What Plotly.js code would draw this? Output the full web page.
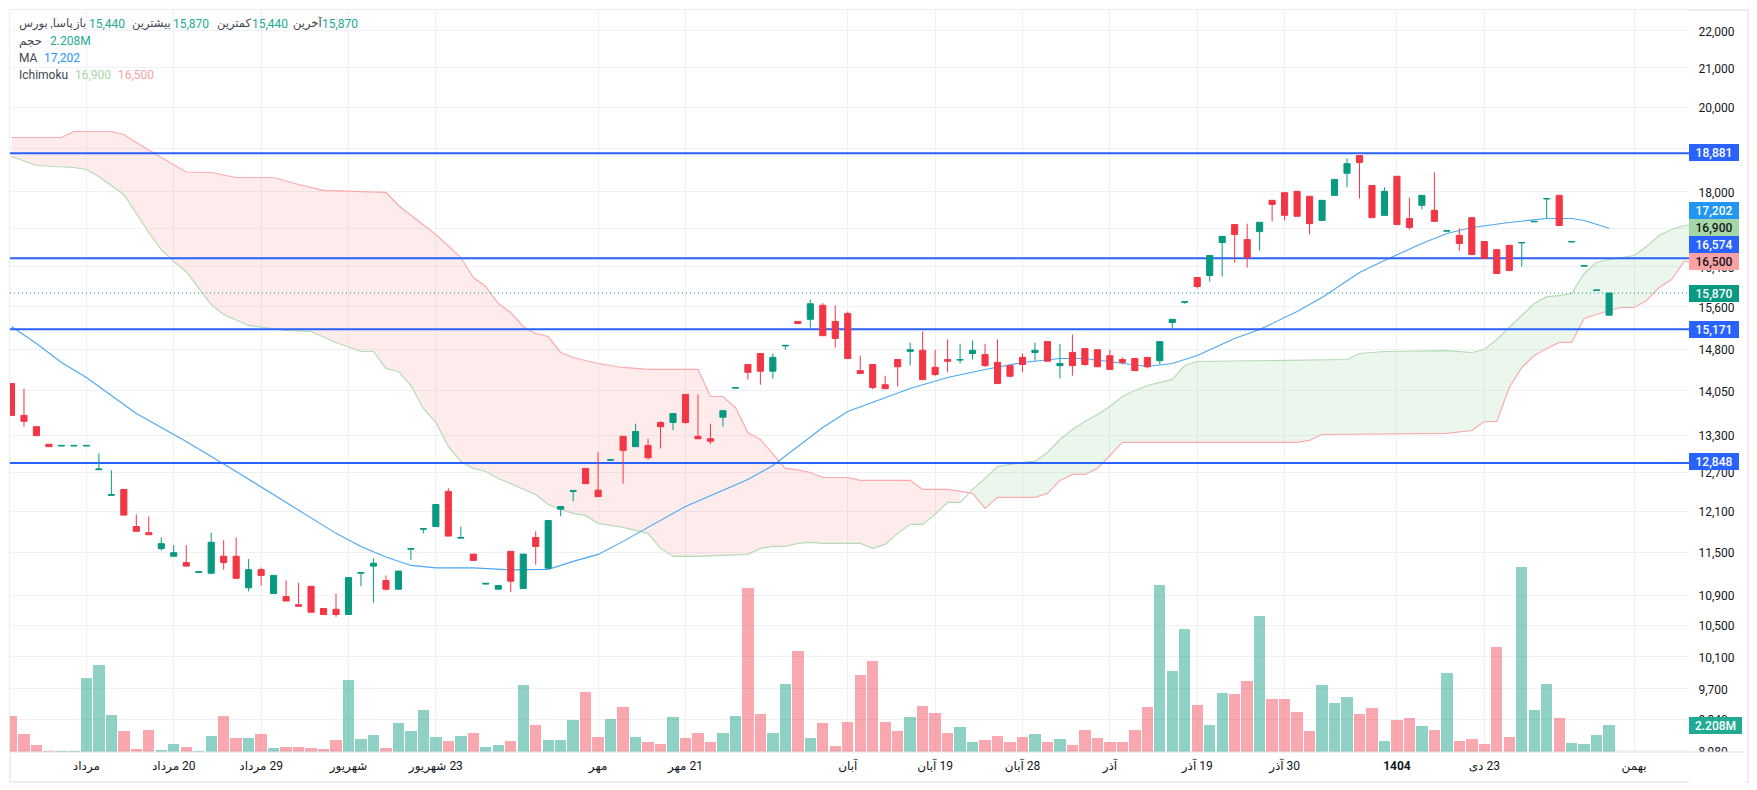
<!DOCTYPE html>
<html><head><meta charset="utf-8">
<script src="https://cdn.plot.ly/plotly-3.0.1.min.js"></script>
<style>
html,body{margin:0;padding:0;background:#fff;width:1757px;height:790px;overflow:hidden}
#frame{position:absolute;left:9px;top:9px;width:1736px;height:770px;border:2px solid #eceef4;box-sizing:content-box}
#chart{position:absolute;left:0;top:0;width:1757px;height:790px}
</style></head><body>
<div id="frame"></div><div id="chart"></div>
<script>
const open=[14180,13630,13440,13150,13120,13120,13120,12740,12340,12430,
11870,11780,11550,11440,11350,11210,11200,11440,11440,11000,
11250,10920,10880,10770,11020,10720,10710,10640,11200,11300,
11100,10980,11540,11830,11870,12400,11700,11470,11050,10980,
11510,10990,11710,11270,12130,12400,12760,12420,12890,13280,
13110,13130,13510,13510,13990,13280,13240,13600,14100,14520,
14720,14400,14860,15320,15360,15630,15320,15470,14410,14520,
14160,14610,14760,14780,14470,14610,14600,14720,14700,14560,
14500,14650,14740,14940,14500,14740,14810,14790,14680,14610,
14630,14650,14590,15300,15690,16180,16220,16900,17280,16960,
17130,17810,17980,18010,17900,17370,17920,18420,18830,18140,
17480,18350,17410,17700,17590,17140,17050,17430,16920,16750,
16840,16890,17340,17840,17920,16910,16410,15920,15440];
const close=[13630,13530,13290,13110,13130,13130,13130,12750,12350,12040,
11800,11750,11620,11490,11300,11220,11640,11350,11130,11250,
11170,11170,10820,10750,10670,10640,10640,11140,11210,11340,
10980,11230,11550,11840,12200,11730,11710,11380,11060,11030,
11090,11470,11580,11960,12170,12410,12520,12320,12900,13050,
13360,12930,13440,13660,13510,13240,13200,13710,14110,14380,
14400,14650,14870,15280,15660,15050,15000,14630,14360,14110,
14090,14480,14790,14250,14340,14580,14610,14780,14500,14180,
14310,14520,14780,14580,14540,14500,14520,14480,14430,14560,
14410,14480,14940,15360,15700,16000,16630,17030,17070,16590,
17330,17720,17480,17460,17300,17810,18280,18640,18670,17430,
18010,17280,17220,17920,17350,17150,16880,16650,16570,16260,
16320,16900,17350,17850,17260,16920,16420,15930,15870];
const high=[14180,14090,13440,13150,13130,13130,13130,13000,12730,12430,
12050,12020,11710,11600,11600,11220,11780,11670,11710,11400,
11280,11170,11100,11070,11020,10720,10920,11140,11210,11410,
11170,11230,11550,11840,12200,12450,11870,11470,11060,11030,
11510,11470,11800,11960,12170,12410,12760,13020,12900,13280,
13490,13240,13530,13660,13990,13990,13490,13710,14110,14520,
14720,14720,14870,15320,15740,15670,15630,15510,14680,14520,
14320,14610,14920,15130,14790,14980,14900,14960,14900,14980,
14500,14720,14920,14940,14900,15070,14810,14790,14790,14650,
14630,14650,14940,15360,15700,16180,16630,17030,17280,17300,
17330,17810,17980,18010,17900,17810,18280,18760,18830,18140,
18100,18350,17870,17920,18440,17150,17200,17430,16920,16750,
16840,16900,17350,17850,17920,16920,16420,15930,15870];
const low=[13630,13440,13290,13110,13120,13120,13120,12740,12340,12040,
11800,11750,11520,11440,11300,11210,11200,11250,11130,10950,
11030,10920,10820,10750,10670,10640,10610,10640,11020,10800,
10960,10980,11390,11770,11870,11730,11700,11380,11050,10980,
10940,10990,11320,11270,12020,12250,12520,12320,12890,12520,
13110,12900,13080,13380,13490,13240,13150,13440,14100,14250,
14160,14270,14790,15280,15200,15050,14830,14630,14360,14080,
14090,14130,14500,14250,14310,14380,14540,14610,14480,14180,
14290,14380,14590,14580,14270,14320,14500,14480,14430,14520,
14410,14450,14520,15190,15660,15960,16100,16200,16480,16380,
16730,17350,17370,17460,17070,17370,17920,18100,17850,17430,
17480,17280,17170,17610,17350,17140,16730,16650,16570,16260,
16320,16400,17340,17410,17260,16910,16410,15920,15440];
const volumeM=[2.94,1.48,.59,.11,.11,.11,6.01,7.06,3.02,1.72,
.27,1.80,.19,.67,.43,.11,1.32,2.94,1.16,1.16,
1.48,.35,.43,.43,.35,.27,1.00,5.84,1.08,1.40,
.35,2.37,1.72,3.42,1.24,.92,1.32,1.56,.43,.59,
.92,5.44,2.21,1.00,1.00,2.61,4.87,1.24,2.69,3.66,
1.24,.83,.67,2.85,1.16,1.56,.83,1.56,2.94,13.28,
3.10,1.56,5.52,8.19,1.16,2.37,.51,2.45,6.25,7.38,
2.45,1.72,2.85,3.74,3.18,1.56,2.05,.83,1.00,1.32,
.83,1.24,1.48,.83,1.08,.59,1.80,1.16,.83,.83,
1.80,3.66,13.52,6.57,9.96,3.82,2.21,4.79,4.71,5.76,
11.01,4.31,4.31,3.26,1.72,5.44,3.99,4.47,3.10,3.58,
.92,2.61,2.77,2.13,1.80,6.41,.92,1.08,.67,8.51,
1.24,14.95,3.42,5.52,2.77,.75,.67,1.40,2.208];
const maIdx=[0,2,4,6,10,14,18,22,26,28,30,32,34,37,40,43,45,47,49,54,59,61,63,65,67,70,72,75,78,81,84,86,89,91,93,95,98,100,103,105,108,110,113,115,117,120,123,125,126,128];
const maVal=[15224,14905,14557,14288,13663,13195,12712,12231,11770,11580,11430,11310,11275,11275,11247,11254,11367,11466,11653,12171,12586,12807,13114,13426,13697,13938,14094,14288,14431,14557,14630,14630,14539,14484,14539,14684,14998,15167,15510,15782,16282,16526,16879,17090,17218,17326,17412,17412,17369,17202];
const ichiBIdx=[0,4,5,8,9,10,12,14,16,18,21,23,25,27,30,31,33,34,36,37,38,39,40,41,42,43,44,45,47,49,51,55,56,57,58,59,60,62,63,64,65,67,68,72,73,75,76,77,78,79,82,83,84,85,86,87,89,103,104,105,115,117,118,119,120,121,122,123,124,125,126,127,128,129,130,131,132,133,134,135];
const ichiB=[19258,19258,19402,19402,19330,19138,18785,18449,18437,18323,18323,18164,18030,18007,17985,17696,17282,17069,16587,16180,16000,15665,15490,15224,15092,15035,14739,14648,14539,14467,14431,14431,13954,13954,13765,13343,13228,12760,12736,12696,12617,12617,12571,12571,12431,12431,12400,12370,12141,12308,12308,12370,12571,12665,12665,12760,13179,13179,13212,13310,13327,13376,13527,13527,14111,14467,14684,14812,14924,14924,15375,15452,15529,15587,15587,15724,15980,16140,16500,16500];
const ichiAIdx=[0,2,5,6,7,9,11,12,13,14,16,17,19,22,24,26,28,29,30,31,32,33,34,35,36,37,38,39,42,43,44,45,46,47,49,51,52,53,55,59,60,61,62,63,64,65,68,69,70,71,72,73,74,75,76,77,78,79,81,82,83,84,85,86,87,88,89,90,91,92,93,94,95,107,108,110,115,117,118,119,120,121,122,123,124,125,126,127,128,129,130,131,132,133,134,135];
const ichiA=[18808,18598,18552,18506,18345,17940,17111,16753,16505,16302,15645,15452,15243,15148,15129,14924,14757,14757,14449,14396,14146,13748,13511,13114,12871,12760,12712,12602,12354,12201,12126,12066,12036,11917,11857,11770,11552,11437,11437,11466,11552,11581,11581,11624,11638,11624,11624,11552,11609,11770,11902,11902,12051,12231,12231,12431,12602,12791,12855,12871,13016,13228,13393,13527,13646,13782,13954,14059,14146,14200,14253,14502,14575,14611,14721,14757,14775,14739,14794,14979,15205,15452,15665,15800,15820,15860,16262,16485,16546,16587,16629,16815,17048,17175,17261,17282];
const levelValues=[18881,16574,15171,12848];
const lastClose=15870;
const priceTicks=[22000,21000,20000,19000,18000,17200,16400,15600,14800,14050,13300,12700,12100,11500,10900,10500,10100,9700,9340,8980];
const timeTickIdx=[6,13,20,27,34,47,54,67,74,81,88,95,102,111,118,130];
const LRM='\u200E';
const timeTickText=['مرداد','مرداد'+LRM+' 20','مرداد'+LRM+' 29','شهریور','شهریور'+LRM+' 23','مهر','مهر'+LRM+' 21','آبان','آبان'+LRM+' 19','آبان'+LRM+' 28','آذر','آذر'+LRM+' 19','آذر'+LRM+' 30','<b>1404</b>','دی'+LRM+' 23','بهمن'];
const badges=[
 {t:'18,881',y:153,bg:'#2962ff',c:'#fff'},
 {t:'17,202',y:210.5,bg:'#2196f3',c:'#fff'},
 {t:'16,900',y:227.5,bg:'#a5d6a7',c:'#131722'},
 {t:'16,574',y:244.5,bg:'#2962ff',c:'#fff'},
 {t:'16,500',y:261.5,bg:'#faa1a4',c:'#131722'},
 {t:'15,870',y:293.5,bg:'#089981',c:'#fff'},
 {t:'15,171',y:329.5,bg:'#2962ff',c:'#fff'},
 {t:'12,848',y:462,bg:'#2962ff',c:'#fff'},
 {t:'2.208M',y:725.4,bg:'#22ab94',c:'#fff',w:53}];
const teal='#089981',red='#f23645',tealText='#22ab94',ink='#434651';
const legendItems=[
 {t:'پاسا, بورس',x:18,y:24,c:ink,s:11.5},{t:'باز',x:72,y:24,c:ink,s:11.5},{t:'15,440',x:88,y:24,c:tealText},
 {t:'بیشترین',x:131,y:24,c:ink,s:11.5},{t:'15,870',x:171.5,y:24,c:tealText},
 {t:'کمترین',x:216,y:24,c:ink,s:11.5},{t:'15,440',x:250.5,y:24,c:tealText},
 {t:'آخرین',x:292,y:24,c:ink,s:11.5},{t:'15,870',x:321,y:24,c:tealText},
 {t:'حجم',x:18,y:41,c:ink},{t:'2.208M',x:48.5,y:41,c:tealText},
 {t:'MA',x:18,y:58,c:ink},{t:'17,202',x:42.5,y:58,c:'#2196f3'},
 {t:'Ichimoku',x:18,y:75,c:ink},{t:'16,900',x:73.5,y:75,c:'#a5d6a7'},{t:'16,500',x:117,y:75,c:'#faa1a4'}];

const FONT='Roboto, "Noto Sans", "DejaVu Sans", sans-serif';
const L=10,R=1689,T=10,B=752,W=R-L,H=B-T;
const px=x=>(x-L)/W, py=y=>(B-y)/H;
const idx=open.map((_,i)=>i);
const yRange=[3.95267,4.35347];
const xRange=[-0.12,134.4];
const sel=(ix,v,f)=>{const a=[],b=[];ix.forEach((k,n)=>{if(f(k)){a.push(k);b.push(v[n]);}});return {x:a,y:b};};
const before=k=>k<=76, after=k=>k>=77;
const noLine={width:0,color:'rgba(0,0,0,0)'};
const pinkFill='rgba(242,54,69,0.10)',greenFill='rgba(76,175,80,0.11)';
const traces=[
 Object.assign({type:'scatter',mode:'lines',line:noLine,hoverinfo:'skip'},sel(ichiBIdx,ichiB,before)),
 Object.assign({type:'scatter',mode:'lines',line:noLine,fill:'tonexty',fillcolor:pinkFill,hoverinfo:'skip'},sel(ichiAIdx,ichiA,before)),
 Object.assign({type:'scatter',mode:'lines',line:noLine,hoverinfo:'skip'},sel(ichiBIdx,ichiB,after)),
 Object.assign({type:'scatter',mode:'lines',line:noLine,fill:'tonexty',fillcolor:greenFill,hoverinfo:'skip'},sel(ichiAIdx,ichiA,after)),
 {type:'scatter',mode:'lines',x:ichiAIdx,y:ichiA,line:{color:'#b5dbb5',width:1.2},hoverinfo:'skip'},
 {type:'scatter',mode:'lines',x:ichiBIdx,y:ichiB,line:{color:'#fbabae',width:1.2},hoverinfo:'skip'},
 {type:'scatter',mode:'lines',x:maIdx,y:maVal,line:{color:'#4aa8f5',width:1.1},hoverinfo:'skip'},
 {type:'scatter',mode:'lines',x:xRange,y:[lastClose,lastClose],line:{color:teal,width:1,dash:'1px 3px'},hoverinfo:'skip'}
];
levelValues.forEach(v=>traces.push({type:'scatter',mode:'lines',x:xRange,y:[v,v],line:{color:'#2962ff',width:2},hoverinfo:'skip'}));
traces.push({type:'bar',x:idx,y:volumeM,yaxis:'y3',width:0.91,marker:{color:idx.map(i=>close[i]>=open[i]?'rgba(8,153,129,0.45)':'rgba(242,54,69,0.43)'),line:{width:0}},hoverinfo:'skip'});
traces.push({type:'candlestick',x:idx,open:open,high:high,low:low,close:close,yaxis:'y2',width:0.78,whiskerwidth:0,
 increasing:{line:{color:teal,width:1},fillcolor:teal},decreasing:{line:{color:red,width:1},fillcolor:red},hoverinfo:'skip'});

const annotations=[];
legendItems.forEach(it=>annotations.push({xref:'paper',yref:'paper',x:px(it.x),y:py(it.y),xanchor:'left',yanchor:'middle',text:it.t,showarrow:false,font:{family:FONT,size:it.s||12,color:it.c},borderpad:0}));
badges.forEach(b=>annotations.push({xref:'paper',yref:'paper',x:1,y:py(b.y),xanchor:'left',yanchor:'middle',text:b.t,showarrow:false,width:b.w||50,height:17,align:'center',valign:'middle',bgcolor:b.bg,borderpad:0,borderwidth:0,font:{family:FONT,size:12,weight:500,color:b.c}}));

const layout={
 width:1757,height:790,margin:{l:L,r:1757-R,t:T,b:790-B,pad:0},
 paper_bgcolor:'rgba(0,0,0,0)',plot_bgcolor:'#fff',showlegend:false,bargap:0,hovermode:false,
 font:{family:FONT,size:12,color:'#131722'},
 xaxis:{type:'linear',range:xRange,tickmode:'array',tickvals:timeTickIdx,ticktext:timeTickText,showgrid:true,gridcolor:'#f0f1f5',gridwidth:1,zeroline:false,showline:false,
   ticks:'outside',ticklen:3,tickcolor:'rgba(0,0,0,0)',tickfont:{family:FONT,size:12,color:'#131722'},rangeslider:{visible:false},fixedrange:true,tickangle:0},
 yaxis:{type:'log',range:yRange,side:'right',tickmode:'array',tickvals:priceTicks,ticktext:priceTicks.map(v=>v.toLocaleString('en-US')),showgrid:true,gridcolor:'#f0f1f5',gridwidth:1,zeroline:false,showline:false,
   ticks:'outside',ticklen:6,tickcolor:'rgba(0,0,0,0)',tickfont:{family:FONT,size:12,color:'#131722'},ticklabelshift:1,fixedrange:true},
 yaxis2:{type:'log',range:yRange,overlaying:'y',visible:false,fixedrange:true},
 yaxis3:{type:'linear',range:[0,60],overlaying:'y',visible:false,fixedrange:true},
 annotations:annotations,
 shapes:[
  {type:'rect',xref:'paper',yref:'paper',x0:1,x1:px(1745),y0:-38/H,y1:0,fillcolor:'#fff',line:{width:0},layer:'above'},
  {type:'line',xref:'paper',yref:'paper',x0:px(11),x1:px(1745),y0:0,y1:0,line:{color:'#e0e3eb',width:1},layer:'above'}
 ]
};
Plotly.newPlot('chart',traces,layout,{staticPlot:true,displayModeBar:false});
</script></body></html>
